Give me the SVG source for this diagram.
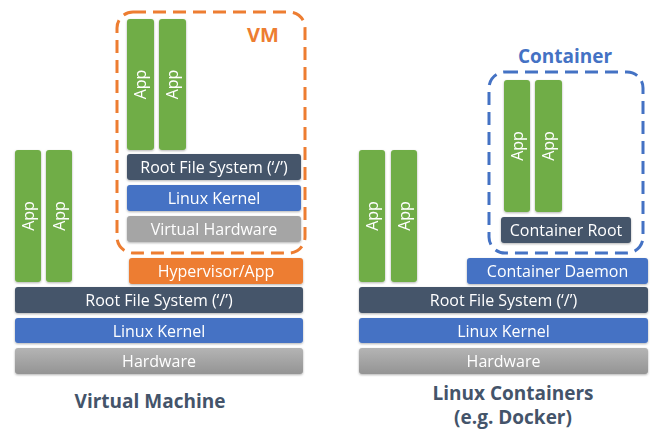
<svg xmlns="http://www.w3.org/2000/svg" width="653" height="430" viewBox="0 0 653 430">
<defs>
<linearGradient id="hw" x1="0" y1="0" x2="0" y2="1">
<stop offset="0" stop-color="#b4b4b4"/>
<stop offset="1" stop-color="#949494"/>
</linearGradient>
<filter id="sh" x="-5%" y="-20%" width="110%" height="150%">
<feDropShadow dx="0" dy="1" stdDeviation="0.8" flood-color="#000" flood-opacity="0.3"/>
</filter>
</defs>
<style>
.bar{filter:url(#sh)}
.app{fill:#70ad47}
.rfs{fill:#44546a}
.ker{fill:#4472c4}
.vhw{fill:#a5a5a5}
.hw{fill:url(#hw)}
.hyp{fill:#ed7d31}
.t{font-family:"Open Sans","Noto Sans",sans-serif;font-size:16px;fill:#fff;text-anchor:middle}
.h{font-family:"Open Sans","Noto Sans",sans-serif;font-weight:bold;text-anchor:middle}
.dash{fill:none;stroke-width:3;stroke-dasharray:13 7}
</style>
<rect width="653" height="430" fill="#fff"/>

<!-- Left: Virtual Machine -->
<g id="vm-box">
<rect class="dash" x="117" y="12" width="188" height="241" rx="16" stroke="#ed7d31"/>
<text class="h" x="263" y="42" font-size="20" fill="#ed7d31">VM</text>
</g>
<g id="vm-app1" class="bar"><rect class="app" x="127" y="19" width="27" height="131" rx="3"/><text class="t" transform="translate(146 84.5) rotate(-90)">App</text></g>
<g id="vm-app2" class="bar"><rect class="app" x="159" y="19" width="27" height="131" rx="3"/><text class="t" transform="translate(178 84.5) rotate(-90)">App</text></g>
<g id="vm-rootfs" class="bar"><rect class="rfs" x="127" y="154" width="174" height="26" rx="3"/><text class="t" x="214" y="173">Root File System (‘/’)</text></g>
<g id="vm-kernel" class="bar"><rect class="ker" x="127" y="185" width="174" height="26" rx="3"/><text class="t" x="214" y="204">Linux Kernel</text></g>
<g id="vm-vhw" class="bar"><rect class="vhw" x="127" y="216" width="174" height="26" rx="3"/><text class="t" x="214" y="235">Virtual Hardware</text></g>

<g id="l-app1" class="bar"><rect class="app" x="15" y="150" width="26" height="132" rx="3"/><text class="t" transform="translate(33.5 216) rotate(-90)">App</text></g>
<g id="l-app2" class="bar"><rect class="app" x="46" y="150" width="26" height="132" rx="3"/><text class="t" transform="translate(64.5 216) rotate(-90)">App</text></g>
<g id="hypervisor" class="bar"><rect class="hyp" x="129" y="258" width="174" height="26" rx="3"/><text class="t" x="216" y="277">Hypervisor/App</text></g>
<g id="l-rootfs" class="bar"><rect class="rfs" x="15" y="287" width="288" height="26" rx="3"/><text class="t" x="159" y="306">Root File System (‘/’)</text></g>
<g id="l-kernel" class="bar"><rect class="ker" x="15" y="318" width="288" height="25" rx="3"/><text class="t" x="159" y="336.5">Linux Kernel</text></g>
<g id="l-hw" class="bar"><rect class="hw" x="15" y="348" width="288" height="26" rx="3"/><text class="t" x="159" y="367">Hardware</text></g>
<text class="h" x="150" y="408" font-size="19" fill="#44546a">Virtual Machine</text>

<!-- Right: Containers -->
<g id="container-box">
<rect class="dash" x="489" y="72" width="154" height="181" rx="16" stroke="#4472c4"/>
<text class="h" x="565" y="63" font-size="19" fill="#4472c4">Container</text>
</g>
<g id="c-app1" class="bar"><rect class="app" x="504" y="80" width="26" height="132" rx="3"/><text class="t" transform="translate(522.5 146) rotate(-90)">App</text></g>
<g id="c-app2" class="bar"><rect class="app" x="535" y="80" width="27" height="132" rx="3"/><text class="t" transform="translate(554 146) rotate(-90)">App</text></g>
<g id="c-root" class="bar"><rect class="rfs" x="501" y="217" width="130" height="26" rx="3"/><text class="t" x="566" y="236">Container Root</text></g>

<g id="r-app1" class="bar"><rect class="app" x="359" y="150" width="26" height="132" rx="3"/><text class="t" transform="translate(377.5 216) rotate(-90)">App</text></g>
<g id="r-app2" class="bar"><rect class="app" x="391" y="150" width="26" height="132" rx="3"/><text class="t" transform="translate(409.5 216) rotate(-90)">App</text></g>
<g id="daemon" class="bar"><rect class="ker" x="467" y="258" width="181" height="26" rx="3"/><text class="t" x="557.5" y="277">Container Daemon</text></g>
<g id="r-rootfs" class="bar"><rect class="rfs" x="359" y="287" width="289" height="26" rx="3"/><text class="t" x="503.5" y="306">Root File System (‘/’)</text></g>
<g id="r-kernel" class="bar"><rect class="ker" x="359" y="318" width="289" height="25" rx="3"/><text class="t" x="503.5" y="336.5">Linux Kernel</text></g>
<g id="r-hw" class="bar"><rect class="hw" x="359" y="348" width="289" height="26" rx="3"/><text class="t" x="503.5" y="367">Hardware</text></g>
<text class="h" font-size="19" fill="#44546a"><tspan x="513" y="400">Linux Containers</tspan><tspan x="513" y="424">(e.g. Docker)</tspan></text>
</svg>
